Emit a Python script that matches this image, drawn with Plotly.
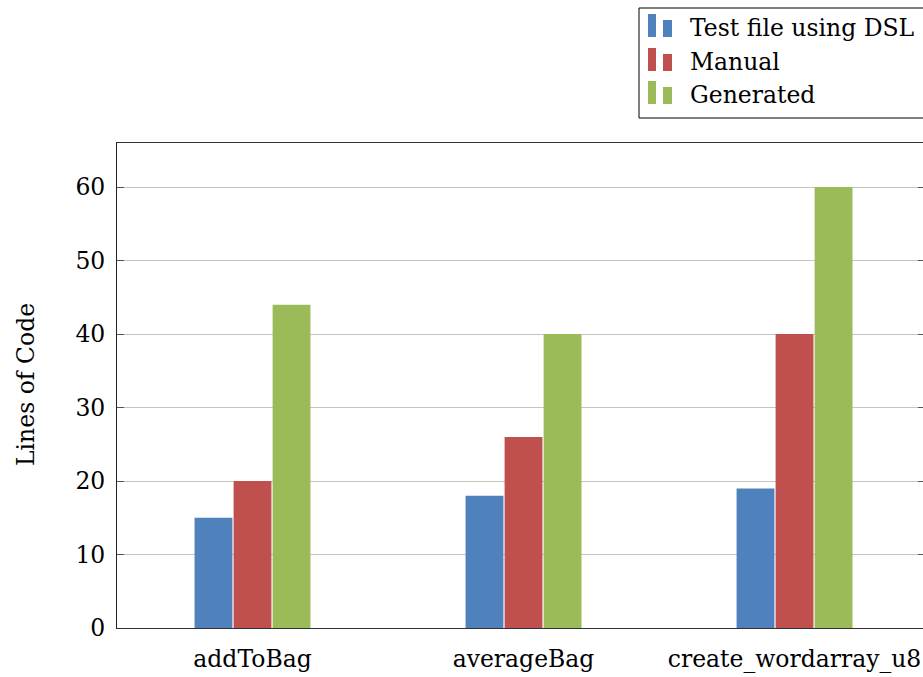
import plotly.graph_objects as go

# Lines of code per test case
categories = ["addToBag", "averageBag", "create_wordarray_u8"]
series_names = ["Test file using DSL", "Manual", "Generated"]
dsl_loc = [15, 18, 19]
manual_loc = [20, 26, 40]
generated_loc = [44, 40, 60]
y_ticks = [0, 10, 20, 30, 40, 50, 60]

colors = ["#4F81BD", "#C0504D", "#9BBB59"]
font_family = "DejaVu Serif"
font_size = 23.5

W, H = 923, 677
L, R, T, B = 117, 0, 143, 49
plot_w = W - L - R
plot_h = H - T - B


def px_x(px):
    return (px - L) / plot_w


def px_y(py):
    return (H - B - py) / plot_h


fig = go.Figure()
for name, vals, col in zip(series_names, [dsl_loc, manual_loc, generated_loc], colors):
    fig.add_trace(go.Bar(
        x=categories, y=vals, name=name,
        marker=dict(color=col, line=dict(width=0)),
        showlegend=False,
    ))

# invisible trace to carry the mirrored right-hand ticks
fig.add_trace(go.Scatter(x=[categories[0]], y=[0], yaxis="y2", mode="markers",
                         marker=dict(opacity=0), showlegend=False, hoverinfo="skip"))

fig.update_layout(
    width=W, height=H,
    margin=dict(l=L, r=R, t=T, b=B),
    paper_bgcolor="white", plot_bgcolor="white",
    font=dict(family=font_family, size=font_size, color="black"),
    barmode="group", bargap=0.568, bargroupgap=0.03,
    xaxis=dict(
        type="category", range=[-0.5, 2.474],
        showline=True, linecolor="#333333", linewidth=1, mirror=True,
        ticks="", showgrid=False, ticklabelstandoff=10,
    ),
    yaxis=dict(
        range=[0, 66], tickvals=y_ticks,
        showline=True, linecolor="#222222", linewidth=1,
        ticks="inside", ticklen=7, tickcolor="#555555",
        showgrid=True, gridcolor="#C4C4C4", gridwidth=1,
        zeroline=False, ticklabelstandoff=6,
    ),
    yaxis2=dict(
        overlaying="y", side="right", range=[0, 66], tickvals=y_ticks,
        showticklabels=False, showgrid=False, showline=False, zeroline=False,
        ticks="inside", ticklen=5, tickcolor="#555555",
    ),
)

# axis title
fig.add_annotation(
    text="Lines of Code", xref="paper", yref="paper",
    x=px_x(26), y=px_y(385), xanchor="center", yanchor="middle",
    textangle=-90, showarrow=False, font=dict(size=font_size),
)

# legend box
shapes = [dict(type="rect", xref="paper", yref="paper",
               x0=px_x(639), x1=px_x(940), y0=px_y(118), y1=px_y(8),
               line=dict(color="black", width=1), fillcolor="white")]
row_centers = [28, 62, 95]
for name, col, cy in zip(series_names, colors, row_centers):
    shapes.append(dict(type="rect", xref="paper", yref="paper",
                       x0=px_x(648), x1=px_x(656), y0=px_y(cy + 9), y1=px_y(cy - 14),
                       line=dict(width=0), fillcolor=col))
    shapes.append(dict(type="rect", xref="paper", yref="paper",
                       x0=px_x(663), x1=px_x(672), y0=px_y(cy + 9), y1=px_y(cy - 8),
                       line=dict(width=0), fillcolor=col))
    fig.add_annotation(text=name, xref="paper", yref="paper",
                       x=px_x(688), y=px_y(cy), xanchor="left", yanchor="middle",
                       showarrow=False, font=dict(size=font_size))
fig.update_layout(shapes=shapes)

fig.write_html("out.html")
